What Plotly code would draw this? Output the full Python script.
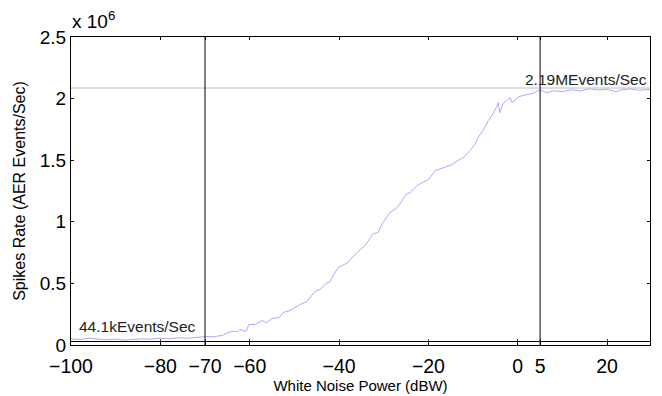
import plotly.graph_objects as go

# White noise power (dBW) and spike rate (millions of AER events/sec)
noise_dbw = [-100, -98, -96, -94, -92, -90, -88, -86, -84, -82, -80, -78, -76, -74, -72,
             -71, -69.6, -68.3, -66, -65, -63.7, -62.6, -62.2, -60.8, -60.2, -58.8, -57.2,
             -56.3, -55, -53.4, -52.5, -51, -49.9, -48.7, -47.2, -46.5, -45.4, -44.3, -42.9,
             -42, -41.6, -40.2, -38.7, -38, -37.1, -35.3, -34, -32.4, -31.3, -30.2, -28.6,
             -27, -25.9, -25, -24.1, -22.5, -21.4, -20, -18.5, -16.3, -14.7, -13.4, -12.2,
             -10.7, -9.6, -8.9, -7.8, -6.6, -5.8, -4.6, -4.4, -4, -3.3, -2.5, -1.7, -1.3,
             -0.4, 0.1, 1, 2.1, 3.5, 5, 6.5, 8, 10, 12, 14, 16, 18, 20, 22, 23, 25, 27, 29.6]
rate_m = [0.050, 0.045, 0.055, 0.050, 0.042, 0.048, 0.040, 0.045, 0.050, 0.047, 0.055,
          0.050, 0.058, 0.055, 0.060,
          0.061, 0.069, 0.066, 0.079, 0.100, 0.110, 0.110, 0.126, 0.110, 0.166, 0.166, 0.199,
          0.180, 0.215, 0.223, 0.264, 0.280, 0.304, 0.328, 0.353, 0.385, 0.434, 0.450, 0.499,
          0.515, 0.547, 0.629, 0.661, 0.669, 0.710, 0.775, 0.815, 0.904, 0.912, 0.993, 1.075,
          1.115, 1.172, 1.220, 1.237, 1.294, 1.318, 1.342, 1.415, 1.440, 1.464, 1.497, 1.521,
          1.578, 1.627, 1.683, 1.740, 1.821, 1.861, 1.942, 1.967, 1.886, 1.959, 1.983, 2.007,
          1.969, 1.991, 2.015, 2.024, 2.032, 2.045, 2.070, 2.048, 2.064, 2.056, 2.072, 2.062,
          2.080, 2.070, 2.075, 2.056, 2.070, 2.080, 2.068, 2.075]

threshold_x = [-70, 5]
saturation_level = [2.086]
x_ticks = [-100, -80, -70, -60, -40, -20, 0, 5, 20]
y_ticks = [0, 0.5, 1, 1.5, 2, 2.5]
x_range = [-100, 29.6]
y_range = [0, 2.5]
low_label = "44.1kEvents/Sec"
high_label = "2.19MEvents/Sec"

FONT = "Liberation Sans, Arial, sans-serif"

fig = go.Figure()
fig.add_trace(go.Scatter(x=noise_dbw, y=rate_m, mode="lines",
                         line=dict(color="rgb(170,170,255)", width=1),
                         showlegend=False, hoverinfo="skip"))

# saturation line
fig.add_shape(type="line", xref="x", yref="y", x0=x_range[0], x1=x_range[1],
              y0=saturation_level[0], y1=saturation_level[0],
              line=dict(color="rgb(190,190,190)", width=1))
# threshold lines
for xv in threshold_x:
    fig.add_shape(type="line", xref="x", yref="paper", x0=xv, x1=xv, y0=0, y1=1,
                  line=dict(color="black", width=1))

fig.add_annotation(x=-98.7, y=0.15, xref="x", yref="y", text=low_label, showarrow=False,
                   xanchor="left", yanchor="middle", font=dict(family=FONT, size=15.5, color="#222"))
fig.add_annotation(x=x_range[1], y=2.155, xref="x", yref="y", text=high_label, showarrow=False,
                   xanchor="right", yanchor="middle", xshift=-1,
                   font=dict(family=FONT, size=15.5, color="#222"))
fig.add_annotation(x=0, y=1, xref="paper", yref="paper", text="x 10<sup>6</sup>",
                   showarrow=False, xanchor="left", yanchor="bottom", xshift=-1, yshift=3,
                   font=dict(family=FONT, size=19, color="black"))

fig.update_layout(
    width=662, height=396,
    margin=dict(l=71, r=12, t=37, b=51),
    paper_bgcolor="white", plot_bgcolor="white",
    font=dict(family=FONT, color="black"),
    xaxis=dict(range=x_range, tickvals=x_ticks, showgrid=False, zeroline=False,
               automargin=False,
               showline=True, linecolor="black", linewidth=1, mirror="ticks",
               ticks="inside", ticklen=3, tickcolor="black", ticklabelstandoff=4,
               tickfont=dict(family=FONT, size=19.5),
               title=dict(text="White Noise Power (dBW)", font=dict(family=FONT, size=15),
                          standoff=2)),
    yaxis=dict(range=y_range, tickvals=y_ticks, showgrid=False, zeroline=False,
               automargin=False,
               showline=True, linecolor="black", linewidth=1, mirror="ticks",
               ticks="inside", ticklen=3, tickcolor="black",
               tickfont=dict(family=FONT, size=19),
               title=dict(text="Spikes Rate (AER Events/Sec)", font=dict(family=FONT, size=16),
                          standoff=10)),
    xaxis2=dict(range=x_range, overlaying="x", anchor="free", position=0.013, side="bottom",
                automargin=False,
                showline=True, linecolor="black", linewidth=1, ticks="inside", ticklen=2,
                tickvals=x_ticks, showticklabels=False, showgrid=False, zeroline=False),
)
# invisible trace to activate the overlaid axis
fig.add_trace(go.Scatter(x=x_range, y=y_range, xaxis="x2", mode="none",
                         showlegend=False, hoverinfo="skip"))

fig.write_html("out.html")
